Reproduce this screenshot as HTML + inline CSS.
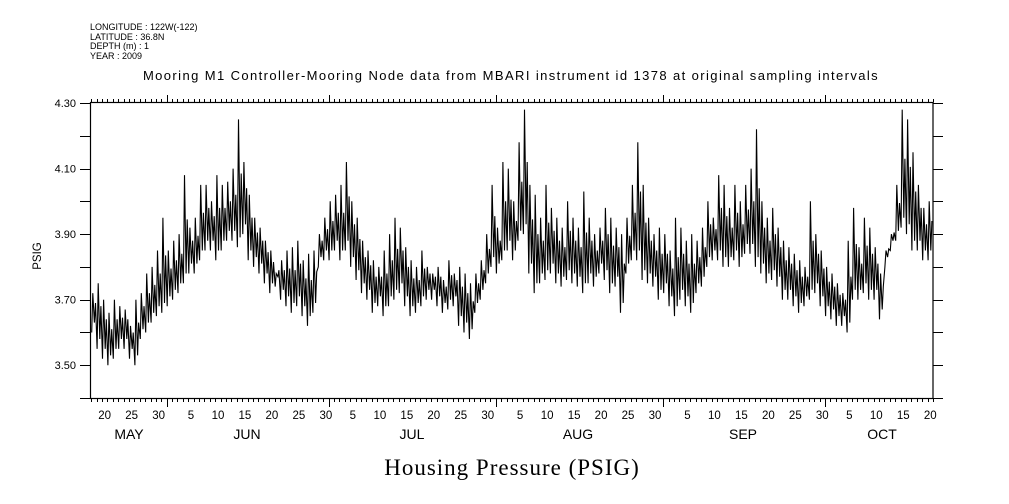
<!DOCTYPE html>
<html><head><meta charset="utf-8"><style>
body{margin:0;background:#fff;}
svg{display:block;font-family:"Liberation Sans",sans-serif;}
</style></head><body>
<svg id="chart" width="1009" height="504" viewBox="0 0 1009 504">
<g font-size="9" fill="#000">
<text x="90" y="30">LONGITUDE : 122W(-122)</text>
<text x="90" y="40">LATITUDE : 36.8N</text>
<text x="90" y="49">DEPTH (m) : 1</text>
<text x="90" y="59">YEAR : 2009</text>
</g>
<text x="511" y="80" font-size="13" text-anchor="middle" letter-spacing="1.4">Mooring M1 Controller-Mooring Node data from MBARI instrument id 1378 at original sampling intervals</text>
<text transform="translate(41,256) rotate(-90)" font-size="11.5" text-anchor="middle">PSIG</text>
<text x="512" y="475" font-family="'Liberation Serif',serif" font-size="23" text-anchor="middle" letter-spacing="1">Housing Pressure (PSIG)</text>
<rect x="90.5" y="102.5" width="842.5" height="296" fill="none" stroke="#000" stroke-width="1.2"/>
<g id="axes"></g>
<polyline id="series" fill="none" stroke="#000" stroke-width="1.1"/>
</svg>
<script>
const yTicks=[3.4,3.5,3.6,3.7,3.8,3.9,4.0,4.1,4.2,4.3];
const yLabels=["3.50","3.70","3.90","4.10","4.30"];
const dayLabels=[[-12,"20"],[-7,"25"],[-2,"30"],[4,"5"],[9,"10"],[14,"15"],[19,"20"],[24,"25"],[29,"30"],[34,"5"],[39,"10"],[44,"15"],[49,"20"],[54,"25"],[59,"30"],[65,"5"],[70,"10"],[75,"15"],[80,"20"],[85,"25"],[90,"30"],[96,"5"],[101,"10"],[106,"15"],[111,"20"],[116,"25"],[121,"30"],[126,"5"],[131,"10"],[136,"15"],[141,"20"]];
const months=["MAY","JUN","JUL","AUG","SEP","OCT"];
const monthStarts=[-31,0,30,61,92,122];
const dailyHigh=[3.72,3.75,3.70,3.66,3.70,3.68,3.67, 3.62,3.70,3.72,3.78,3.80,3.85,3.95,
3.85,3.88,3.90,4.08,3.92,3.95,4.05, 4.05,4.00,4.08,4.05,4.06,4.10,4.25,
4.12,4.02,3.95,3.92,3.88,3.85,3.78, 3.82,3.85,3.86,3.88,3.82,3.84,3.85,
3.90,3.95,4.00,4.02,4.05,4.12,4.00, 3.95,3.88,3.85,3.82,3.80,3.85,3.90,
3.95,3.92,3.86,3.82,3.80,3.85,3.80, 3.78,3.80,3.76,3.82,3.78,3.80,3.78,
3.75,3.78,3.82,3.90,4.05,3.92,4.12, 4.10,4.00,4.18,4.28,4.05,4.02,3.95,
4.05,3.98,3.95,3.92,4.00,3.95,3.92, 4.03,3.95,3.90,3.92,3.98,3.95,3.92,
3.90,3.95,4.05,4.18,4.05,3.95,3.90, 3.92,3.90,3.85,3.95,3.92,3.88,3.90,
3.88,3.92,4.00,3.95,4.08,4.05,3.98, 4.05,4.00,4.05,4.10,4.22,4.00,3.95,
3.98,3.92,3.88,3.86,3.84,3.82,3.80, 4.00,3.90,3.85,3.80,3.78,3.75,3.72,
3.88,3.98,3.86,3.95,3.92,3.86,3.78, 3.85,3.90,4.05,4.28,4.25,4.15,4.05, 3.98,4.00];
const dailyLow=[3.60,3.55,3.52,3.50,3.52,3.55,3.55, 3.52,3.50,3.58,3.60,3.63,3.65,3.66,
3.68,3.70,3.72,3.75,3.78,3.78,3.82, 3.85,3.85,3.82,3.85,3.88,3.88,3.86,
3.90,3.82,3.80,3.78,3.75,3.72,3.74, 3.70,3.68,3.66,3.68,3.65,3.62,3.66,
3.80,3.82,3.82,3.85,3.82,3.85,3.80, 3.76,3.72,3.70,3.66,3.68,3.65,3.68,
3.70,3.72,3.68,3.65,3.66,3.68,3.70, 3.70,3.68,3.66,3.67,3.68,3.62,3.60,
3.58,3.66,3.70,3.75,3.80,3.78,3.82, 3.85,3.82,3.88,3.90,3.78,3.72,3.75,
3.76,3.78,3.75,3.74,3.76,3.75,3.74, 3.72,3.75,3.74,3.78,3.76,3.72,3.74,
3.66,3.78,3.82,3.82,3.76,3.75,3.74, 3.70,3.72,3.68,3.65,3.70,3.68,3.66,
3.72,3.74,3.80,3.82,3.82,3.80,3.80, 3.82,3.80,3.84,3.84,3.80,3.78,3.75,
3.76,3.74,3.70,3.70,3.68,3.66,3.68, 3.70,3.72,3.68,3.65,3.64,3.62,3.62,
3.60,3.70,3.70,3.72,3.70,3.70,3.64, 3.80,3.85,3.88,3.92,3.90,3.85,3.85, 3.82,3.82];

const X0=166.7, PXD=5.396, Y0=103, PXV=327.8, YMAX=4.3;
const xs=d=>X0+PXD*d;
const ys=v=>Y0+(YMAX-v)*PXV;
const NS="http://www.w3.org/2000/svg";
const axes=document.getElementById('axes');
function ln(x1,y1,x2,y2,name){
  const l=document.createElementNS(NS,'line');
  l.setAttribute('x1',x1);l.setAttribute('y1',y1);l.setAttribute('x2',x2);l.setAttribute('y2',y2);
  l.setAttribute('stroke','#000');l.setAttribute('stroke-width','1');
  
  
  axes.appendChild(l);
}
function tx(x,y,s,size,name){
  const t=document.createElementNS(NS,'text');
  t.setAttribute('x',x);t.setAttribute('y',y);t.setAttribute('font-size',size);t.setAttribute('text-anchor','middle');
  t.textContent=s;
  
  
  axes.appendChild(t);
}
yTicks.forEach(v=>{
  const y=Math.round(ys(v))+0.5;
  ln(80,y,90.5,y,'y-tick-left');
  ln(933,y,943,y,'y-tick-right');
});
yLabels.forEach(s=>{
  const t=document.createElementNS(NS,'text');
  t.setAttribute('x',76);t.setAttribute('y',ys(parseFloat(s))+4);t.setAttribute('font-size','11');t.setAttribute('text-anchor','end');
  t.textContent=s;
  
  
  axes.appendChild(t);
});
for(let d=-14;d<=142;d++){
  const x=Math.round(xs(d))+0.5;
  if(x<90||x>934) continue;
  const major=monthStarts.includes(d);
  ln(x,102.5,x,major?95:99,'top-tick');
  ln(x,398.5,x,major?407:402,'bottom-tick');
}
dayLabels.forEach(([d,s])=>tx(xs(d+0.5),419,s,11.5,'x-day-label'));
const monthX=[129,247,412,578,743,882];
months.forEach((m,i)=>tx(monthX[i],439,m,14,'x-month-label'));
const pts=[];
dailyHigh.forEach((h,i)=>{
  const d=i-14, lo=dailyLow[i], mid=(h+lo)/2;
  [[0.1,lo],[0.3,h],[0.6,lo+0.03],[0.8,mid+0.03]].forEach(([o,v])=>{
    const x=xs(d+o); if(x>=91&&x<=932) pts.push(x.toFixed(1)+','+ys(v).toFixed(1));
  });
});
document.getElementById('series').setAttribute('points',pts.join(' '));
</script>
</body></html>
